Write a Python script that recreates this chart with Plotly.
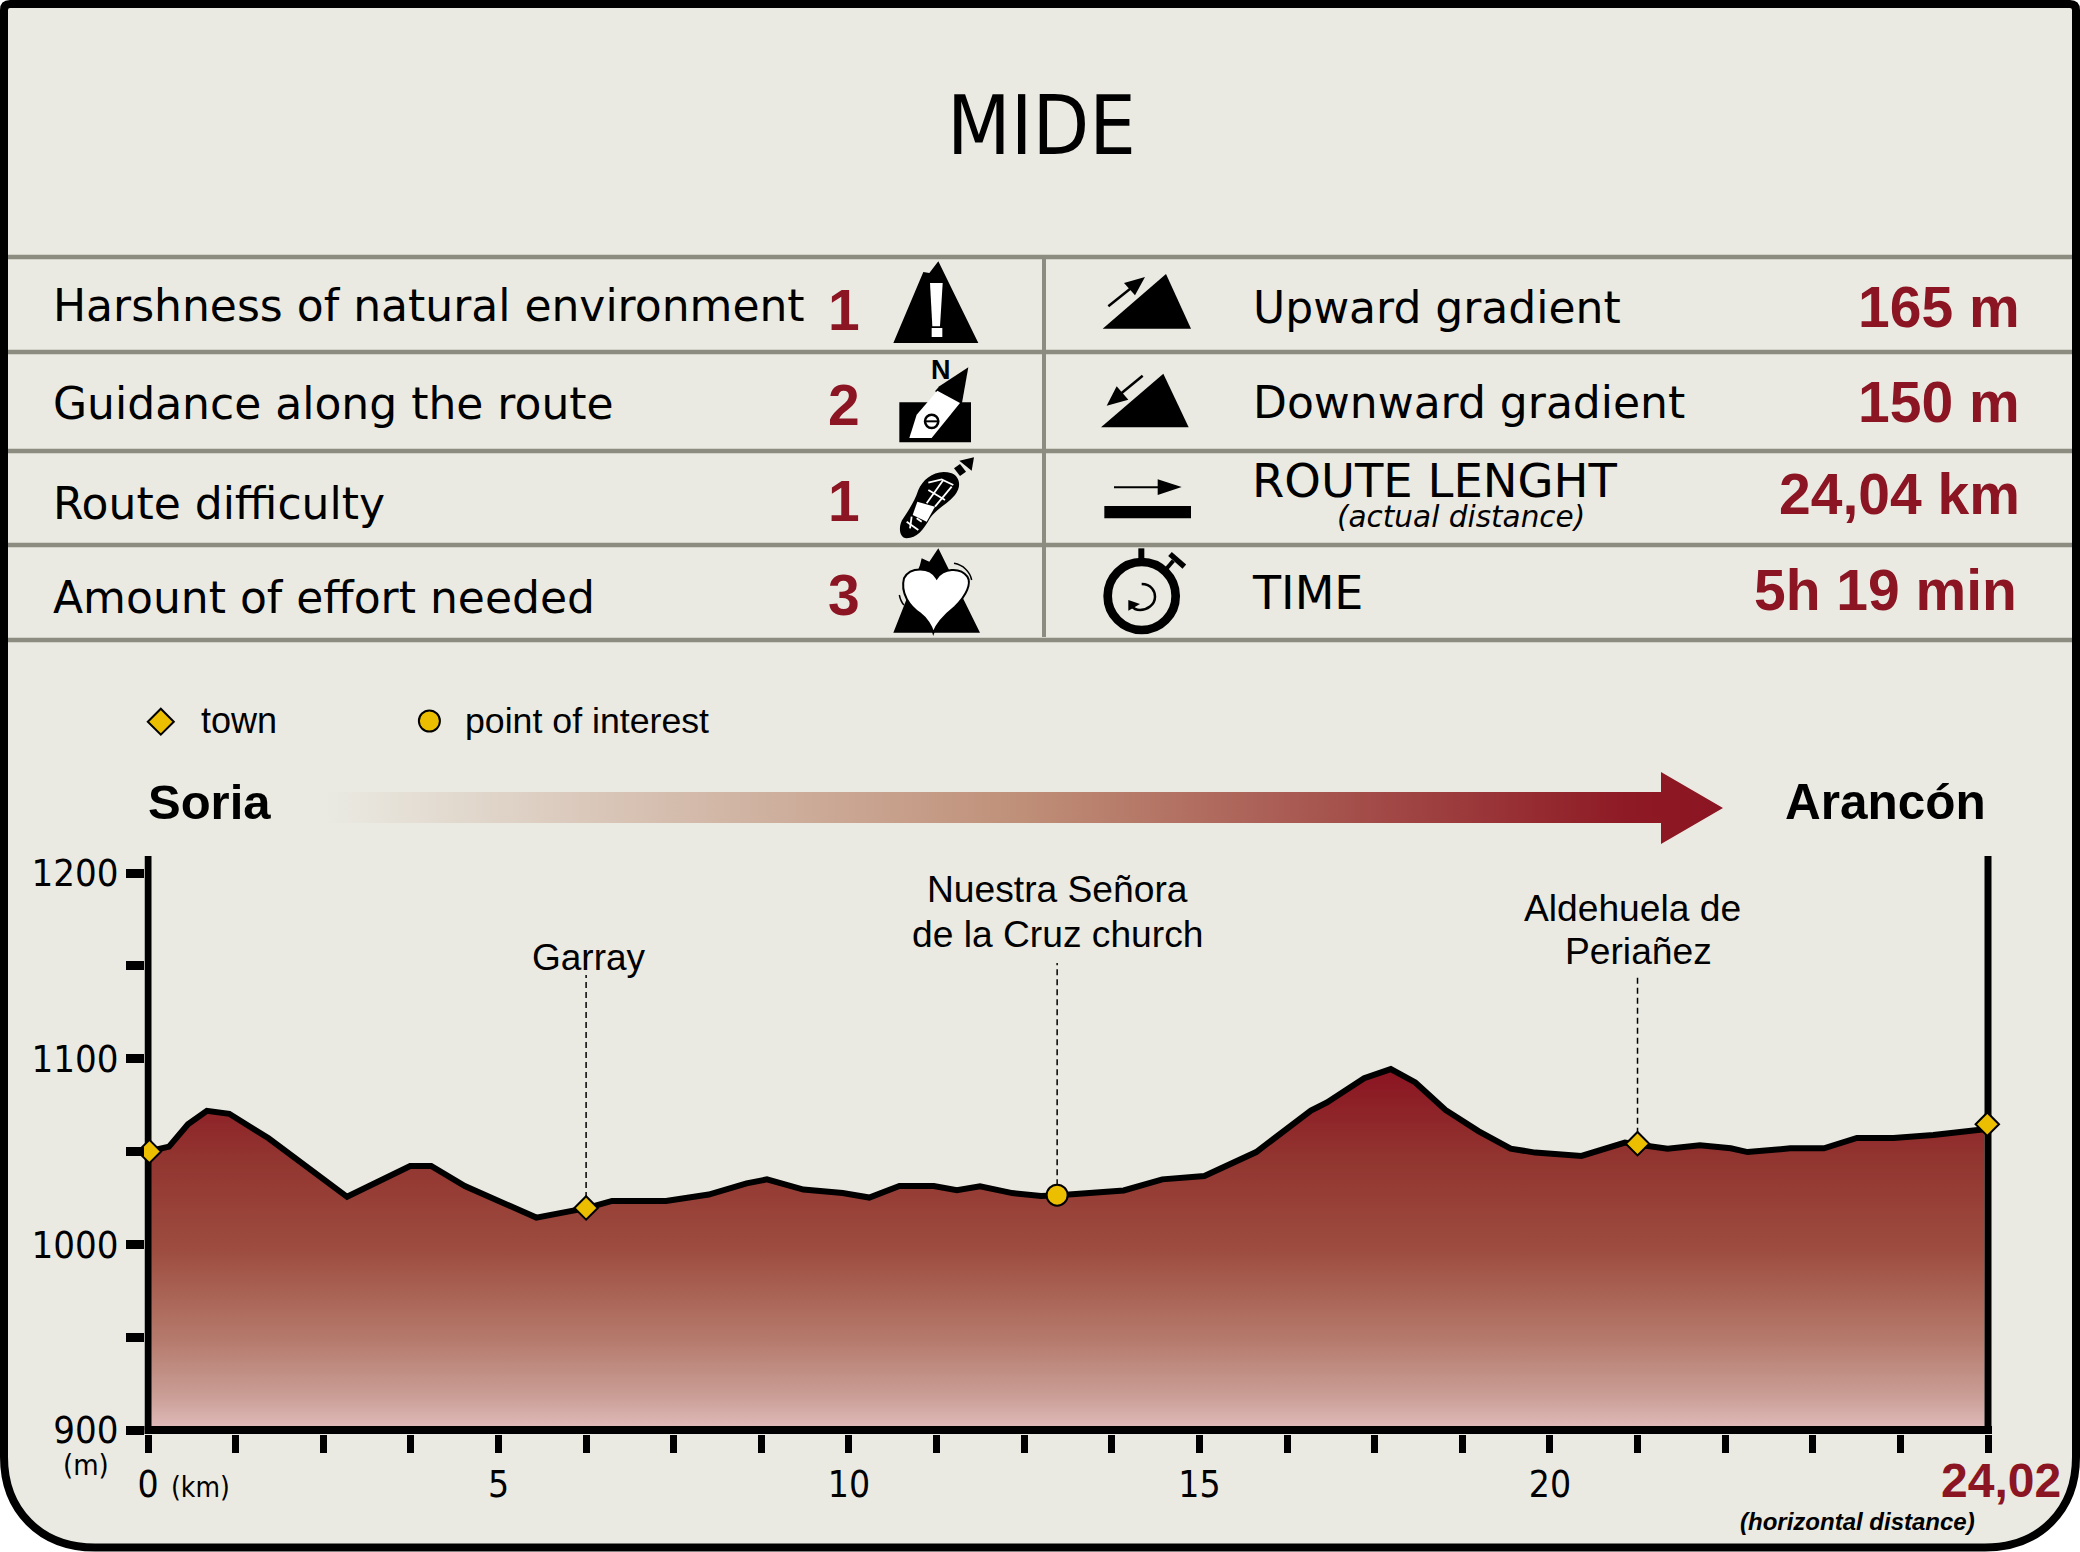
import re
import plotly.graph_objects as go

# ---------- data ----------
distance_km = [0, 0.30, 0.57, 0.84, 1.16, 1.72, 2.84, 3.29, 3.74, 4.04, 4.52, 5.54, 6.27, 6.62, 7.39, 8.0,
               8.54, 8.83, 9.35, 9.91, 10.29, 10.72, 11.21, 11.54, 11.87, 12.33, 12.74, 12.99, 13.92, 14.47,
               15.07, 15.81, 16.59, 16.82, 17.35, 17.73, 18.08, 18.51, 18.98, 19.44, 19.79, 20.45, 21.07,
               21.27, 21.68, 22.14, 22.58, 22.82, 23.43, 23.91, 24.38, 24.9, 25.47, 26.2]
elevation_m = [1050, 1052.6, 1064.7, 1071.9, 1070.3, 1057.1, 1025.6, 1033.5, 1042.2, 1042.2, 1031.4, 1014.4,
               1019.6, 1023.4, 1023.4, 1026.8, 1032.8, 1035, 1029.5, 1027.6, 1025.2, 1031.4, 1031.4, 1029.2,
               1031.2, 1027.6, 1026, 1026.5, 1029, 1035, 1036.8, 1049.7, 1072, 1076.4, 1089.5, 1094.4,
               1087.2, 1072.4, 1061, 1051.5, 1049.4, 1047.6, 1054.8, 1053.6, 1051.5, 1053.3, 1051.7, 1049.7,
               1051.7, 1051.7, 1057.3, 1057.3, 1058.9, 1062]
town_km = [0.02, 6.25, 21.25, 26.24]
town_m = [1050, 1019.6, 1054.2, 1064.7]
poi_km = [12.97]
poi_m = [1026.5]
drop_km = [6.25, 12.97, 21.25]
drop_base_m = [1019.6, 1026.5, 1054.2]
drop_top_m = [1145, 1151.5, 1144]
x_tick_vals = [i * 1.25 for i in range(22)]
x_tick_text = ["0", "", "", "", "5", "", "", "", "10", "", "", "", "15", "", "", "", "20", "", "", "", "", ""]
y_tick_vals = [900, 950, 1000, 1050, 1100, 1150, 1200]
y_tick_text = ["900", "", "1000", "", "1100", "", "1200"]
left_labels = ["Harshness of natural environment", "Guidance along the route", "Route difficulty", "Amount of effort needed"]
left_scores = ["1", "2", "1", "3"]
right_values = ["165 m", "150 m", "24,04 km", "5h 19 min"]

# ---------- styling ----------
BG = "#EAEAE2"
RED = "#8B1522"
GREY = "#8C8C80"
GOLD = "#EBBE00"
W, H = 2080, 1552
COND = "DejaVu Sans Condensed"
SANS = "DejaVu Sans"
ARIAL = "Liberation Sans"
# plot box (page pixels): 0 km at 148, last tick at 1988, 900 m at 1430, 1200 m at 873
PX_PER_KM = 1840 / 26.25
PX_PER_M = 557 / 300
PAD_L, PAD_R, PAD_B = 3.5, 4, 4
X0, X1 = 148 - PAD_L, 1988 + PAD_R
Y0, Y1 = 1430 + PAD_B, 856
NOFILL = "rgba(0,0,0,0)"

fig = go.Figure()
C = dict(xaxis="x2", yaxis="y2", hoverinfo="skip")   # chart axes

# page-pixel traces: gradient arrow and legend markers
fig.add_trace(go.Scatter(x=[325, 1661, 1661, 1723, 1661, 1661, 325, 325], y=[792, 792, 772, 808, 844, 823, 823, 792],
                         mode="none", fill="toself", hoverinfo="skip",
                         fillgradient=dict(type="horizontal", colorscale=[[0, BG], [0.5, "#BF8F78"], [0.93, "#8E1A25"], [1, "#8B1522"]])))
fig.add_trace(go.Scatter(x=[160.8], y=[721.7], mode="markers", hoverinfo="skip",
                         marker=dict(symbol="diamond", size=20, color=GOLD, line=dict(color="black", width=2))))
fig.add_trace(go.Scatter(x=[429.4], y=[721], mode="markers", hoverinfo="skip",
                         marker=dict(symbol="circle", size=21, color=GOLD, line=dict(color="black", width=2))))

# elevation area
fig.add_trace(go.Scatter(
    x=[distance_km[0]] + distance_km + [distance_km[-1]], y=[900] + elevation_m + [900],
    mode="none", fill="toself", **C,
    fillgradient=dict(type="vertical", start=1095, stop=900,
                      colorscale=[[0, "#8A1321"], [0.25, "#923530"], [0.5, "#9D4C3F"], [0.75, "#B57A6C"],
                                  [0.9, "#C99C94"], [1, "#E0BCBB"]])))
fig.add_trace(go.Scatter(x=distance_km, y=elevation_m, mode="lines",
                         line=dict(color="black", width=6), **C))
# drop lines
for k, b, t in zip(drop_km, drop_base_m, drop_top_m):
    fig.add_trace(go.Scatter(x=[k, k], y=[b, t], mode="lines",
                             line=dict(color="black", width=1.5, dash="6px,4px"), **C))
# axis lines
fig.add_trace(go.Scatter(x=[0, 0], y=[900, 1210], mode="lines",
                         line=dict(color="black", width=7), **C))
fig.add_trace(go.Scatter(x=[26.25, 26.25], y=[900, 1210], mode="lines",
                         line=dict(color="black", width=7), **C))
fig.add_trace(go.Scatter(x=[-0.1, 26.4], y=[900, 900], mode="lines",
                         line=dict(color="black", width=8), **C))
# waypoints
fig.add_trace(go.Scatter(x=town_km, y=town_m, mode="markers", cliponaxis=False,
                         marker=dict(symbol="diamond", size=18, color=GOLD, line=dict(color="black", width=2)), **C))
fig.add_trace(go.Scatter(x=poi_km, y=poi_m, mode="markers", cliponaxis=False,
                         marker=dict(symbol="circle", size=21, color=GOLD, line=dict(color="black", width=2)), **C))

# ---------- shapes ----------
shapes = []
def add(path=None, fill="black", line=None, lw=0, layer="above", **kw):
    d = dict(xref="x", yref="y", layer=layer, fillcolor=fill,
             line=dict(color=line or NOFILL, width=lw))
    if path:
        d.update(type="path", path=path)
    d.update(kw)
    shapes.append(d)

def zp(s, ox, oy):
    """Scale icon outline given in 3x crop units to page pixels."""
    return re.sub(r"(-?[\d.]+),(-?[\d.]+)", lambda m: f"{ox + float(m[1]) / 3:.2f},{oy + float(m[2]) / 3:.2f}", s)

# panel
add("M10,4 L2070,4 Q2076,4 2076,10 L2076,1457 C2076,1510 2040,1547.5 1985,1547.5 L95,1547.5 C40,1547.5 4,1510 4,1457 L4,10 Q4,4 10,4 Z",
    fill=BG, line="black", lw=8, layer="below")
# table rules
for y in [257, 352, 451, 545, 640]:
    add(type="line", x0=8, x1=2072, y0=y, y1=y, line=GREY, lw=4.5, layer="below")
add(type="line", x0=1044, x1=1044, y0=257, y1=637, line=GREY, lw=4, layer="below")

# harshness icon
o = (880, 258)
add(zp("M40,255 L130,42 L148,45 L175,10 L295,255 Z", *o))
add(zp("M150,75 L188,75 L180,205 L157,205 Z", *o), fill="white")
add(zp("M155,210 L187,210 L187,237 L155,237 Z", *o), fill="white")
# guidance icon
add(zp("M58,433 L273,433 L273,553 L58,553 Z", *o))
add(zp("M265,328 L178,385 L165,400 L245,440 Z", *o))
add(zp("M172,398 L240,435 L155,540 L88,540 L110,470 Z", *o), fill="white")
add(type="circle", x0=880 + 135 / 3, x1=880 + 175 / 3, y0=258 + 470 / 3, y1=258 + 510 / 3, fill=NOFILL, line="black", lw=2.5)
add(type="line", x0=880 + 137 / 3, x1=880 + 173 / 3, y0=258 + 490 / 3, y1=258 + 490 / 3, line="black", lw=2)

# boot icon
o = (880, 450)
add(zp("M215,70 C240,80 245,110 225,135 C200,165 170,175 150,205 C130,240 110,265 80,265 C55,262 55,225 70,205 C90,175 105,150 115,120 C130,85 170,55 215,70 Z", *o))
add(zp("M112,155 L165,170 L140,215 L98,195 Z", *o), fill="white")
for seg in ["M145,98 L185,88 L220,105", "M140,160 L190,90", "M165,170 L215,110", "M145,120 L195,150",
            "M80,215 L115,240", "M95,200 L90,235", "M110,205 L125,215"]:
    add(zp(seg, *o), fill=NOFILL, line="white", lw=1.8)
add(zp("M238,32 L282,22 L275,62 Z", *o))
add(zp("M222,55 L240,42 L258,65 L240,78 Z", *o))
# effort icon
add(zp("M40,548 L120,345 L125,325 L148,335 L175,295 L300,548 Z", *o))
add(zp("M170,385 C150,350 90,350 72,385 C60,430 90,470 120,490 C140,505 155,530 160,548 C170,520 200,490 225,470 C260,435 275,400 262,380 C240,350 190,355 170,385 Z", *o),
    fill="white", line="black", lw=2)
add(zp("M222,340 C250,345 270,365 275,390", *o), fill=NOFILL, line="black", lw=1.5)
add(zp("M58,435 C60,445 65,458 72,465", *o), fill=NOFILL, line="black", lw=1.5)

# gradient icons
o = (1090, 258)
add(zp("M38,212 L228,48 L303,212 Z", *o))
add(zp("M55,145 L130,85", *o), fill=NOFILL, line="black", lw=2.5)
add(zp("M102,75 L165,57 L135,112 Z", *o))
add(zp("M33,508 L220,347 L296,508 Z", *o))
add(zp("M158,353 L85,413", *o), fill=NOFILL, line="black", lw=2.5)
add(zp("M50,443 L80,385 L115,425 Z", *o))
# length icon
o = (1090, 450)
add(zp("M72,112 L205,112", *o), fill=NOFILL, line="black", lw=2)
add(zp("M203,88 L275,111 L203,135 Z", *o))
add(zp("M43,168 L303,168 L303,205 L43,205 Z", *o))
# stopwatch icon
add(type="circle", x0=1090 + 53 / 3, x1=1090 + 257 / 3, y0=450 + 336 / 3, y1=450 + 540 / 3, fill=NOFILL, line="black", lw=8.7)
add(zp("M145,295 L163,295 L163,335 L145,335 Z", *o))
add(zp("M228,358 L250,332", *o), fill=NOFILL, line="black", lw=4)
add(zp("M240,312 L283,350", *o), fill=NOFILL, line="black", lw=5.5)
add(zp("M155,402 C185,402 195,425 195,440 C195,465 170,480 150,480 C140,480 130,475 125,468", *o), fill=NOFILL, line="black", lw=2.5)
add(zp("M115,450 L115,482 L150,462 Z", *o))

# ---------- text ----------
ann = []
def txt(x, base, s, size, family=SANS, color="black", anchor="left", bold=False, italic=False):
    ann.append(dict(x=x, y=base - 0.346 * size, xref="x", yref="y", text=s, showarrow=False, xanchor=anchor, yanchor="middle",
                    borderpad=0, font=dict(family=family, size=size, color=color, weight="bold" if bold else "normal",
                                           style="italic" if italic else "normal")))

txt(1041, 154, "MIDE", 82, COND, anchor="center")
txt(940.7, 379, "N", 27, ARIAL, anchor="center", bold=True)
for s, base in zip(left_labels, [321, 419, 519, 613]):
    txt(51.5, base, s, 44)
for s, base in zip(left_scores, [330, 425, 521, 615]):
    txt(844, base, s, 57, ARIAL, RED, "center", True)
txt(1251.5, 323, "Upward gradient", 44)
txt(1251.5, 418, "Downward gradient", 44)
txt(1251, 497, "ROUTE LENGHT", 46.5)
txt(1461, 527, "(actual distance)", 29.5, anchor="center", italic=True)
txt(1251, 609, "TIME", 46)
for s, base, r in zip(right_values, [327, 422, 514, 610], [2021, 2021, 2021, 2018]):
    txt(r, base, s, 57, ARIAL, RED, "right", True)
txt(200, 733, "town", 36, ARIAL)
txt(464, 733, "point of interest", 35.7, ARIAL)
txt(146.7, 819, "Soria", 49, ARIAL, bold=True)
txt(1986.5, 819, "Arancón", 49.5, ARIAL, anchor="right", bold=True)
txt(589, 970, "Garray", 37, ARIAL, anchor="center")
txt(1057, 902, "Nuestra Señora", 37.2, ARIAL, anchor="center")
txt(1057, 947, "de la Cruz church", 37.2, ARIAL, anchor="center")
txt(1632, 921, "Aldehuela de", 37.2, ARIAL, anchor="center")
txt(1638, 964, "Periañez", 37.2, ARIAL, anchor="center")
txt(86, 1475, "(m)", 29, COND, anchor="center")
txt(200, 1497, "(km)", 28, COND, anchor="center")
txt(2001, 1497, "24,02", 48, ARIAL, RED, "center", True)
txt(1976, 1530, "(horizontal distance)", 24, ARIAL, anchor="right", bold=True, italic=True)

fig.update_layout(
    width=W, height=H, margin=dict(l=0, r=0, t=0, b=0, autoexpand=False), paper_bgcolor="white", plot_bgcolor="rgba(0,0,0,0)",
    showlegend=False, shapes=shapes, annotations=ann,
    xaxis=dict(domain=[0, 1], range=[0, W], visible=False, anchor="y", automargin=False),
    yaxis=dict(domain=[0, 1], range=[H, 0], visible=False, anchor="x", automargin=False),
    xaxis2=dict(domain=[X0 / W, X1 / W], range=[-PAD_L / PX_PER_KM, 26.25 + PAD_R / PX_PER_KM], tickmode="array",
                tickvals=x_tick_vals, ticktext=x_tick_text, automargin=False,
                ticks="outside", ticklen=18, tickwidth=6.5, tickcolor="black", showgrid=False, zeroline=False, showline=False,
                tickfont=dict(family=COND, size=37, color="black"), ticklabelstandoff=0, anchor="y2"),
    yaxis2=dict(domain=[(H - Y0) / H, (H - Y1) / H], range=[900 - PAD_B / PX_PER_M, 900 + (1430 - Y1) / PX_PER_M], tickmode="array",
                tickvals=y_tick_vals, ticktext=y_tick_text, automargin=False,
                ticks="outside", ticklen=17.5, tickwidth=9, tickcolor="black", showgrid=False, zeroline=False, showline=False,
                tickfont=dict(family=COND, size=38, color="black"), anchor="x2"),
)
fig.write_html("out.html", config=dict(displayModeBar=False), post_script="document.body.style.margin='0';")
